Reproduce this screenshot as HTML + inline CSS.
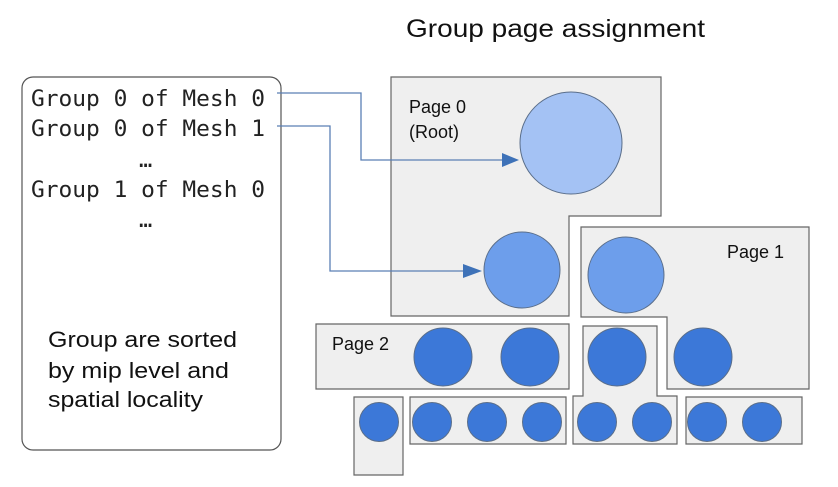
<!DOCTYPE html>
<html><head><meta charset="utf-8">
<style>
html,body{margin:0;padding:0;background:#fff;}
svg{display:block;}
.mono{font-family:"DejaVu Sans Mono","Liberation Mono",monospace;font-size:22px;fill:#222;}
.sans{font-family:"Liberation Sans",Arial,sans-serif;fill:#111;}
</style></head>
<body>
<svg id="diagram" width="838" height="487" viewBox="0 0 838 487" xmlns="http://www.w3.org/2000/svg">
  <text class="sans" x="406" y="37" font-size="25" textLength="299" lengthAdjust="spacingAndGlyphs">Group page assignment</text>

  <rect x="22" y="77" width="259" height="373" rx="11" fill="#fff" stroke="#555" stroke-width="1.2"/>
  <text class="mono" x="31" y="106" textLength="234" lengthAdjust="spacingAndGlyphs">Group 0 of Mesh 0</text>
  <text class="mono" x="31" y="136" textLength="234" lengthAdjust="spacingAndGlyphs">Group 0 of Mesh 1</text>
  <text class="mono" x="139" y="167" font-size="18">…</text>
  <text class="mono" x="31" y="197" textLength="234" lengthAdjust="spacingAndGlyphs">Group 1 of Mesh 0</text>
  <text class="mono" x="139" y="227" font-size="18">…</text>
  <text class="sans" font-size="22" x="48" y="347" textLength="189" lengthAdjust="spacingAndGlyphs">Group are sorted</text>
  <text class="sans" font-size="22" x="48" y="378" textLength="181" lengthAdjust="spacingAndGlyphs">by mip level and</text>
  <text class="sans" font-size="22" x="48" y="407" textLength="155" lengthAdjust="spacingAndGlyphs">spatial locality</text>

  <g id="pages" stroke="#666" stroke-width="1.2" fill="#efefef"></g>
  <g id="labels"></g>

  <polyline points="277,93 361,93 361,160 504,160" fill="none" stroke="#5a7fb5" stroke-width="1.3"/>
  <path d="M502,153 L519,160 L502,167 Z" fill="#3e72b8"/>
  <polyline points="277,126 330,126 330,271 466,271" fill="none" stroke="#5a7fb5" stroke-width="1.3"/>
  <path d="M463,264 L482,271 L463,278 Z" fill="#3e72b8"/>

  <g id="circles" stroke="#5a6e8a" stroke-width="1"></g>
</svg>
<script>
const pageNames = ["page-0","page-1","page-2","page-mid","box-a","box-b","box-d"];
const pageShapes = [
  "391,77 661,77 661,216 569,216 569,316 391,316",
  "581,227 809,227 809,389 667,389 667,317 581,317",
  "316,324 569,324 569,389 316,389",
  "583,326 657,326 657,396 677,396 677,444 573,444 573,396 583,396",
  "354,397 403,397 403,475 354,475",
  "410,397 566,397 566,444 410,444",
  "686,397 802,397 802,444 686,444"
];
const labelTexts = ["Page 0","(Root)","Page 1","Page 2"];
const labelX = [409,409,727,332];
const labelY = [113,138,258,350];
const circleX = [571,522,626,703,443,530,617,379,432,487,542,597,652,707,762];
const circleY = [143,270,275,357,357,357,357,422,422,422,422,422,422,422,422];
const circleR = [51,38,38,29,29,29,29,19.5,19.5,19.5,19.5,19.5,19.5,19.5,19.5];
const circleLevel = [0,1,1,2,2,2,2,2,2,2,2,2,2,2,2];
const levelColors = ["#a4c2f4","#6d9eeb","#3c78d8"];
const NS = "http://www.w3.org/2000/svg";
const pg = document.getElementById("pages");
pageShapes.forEach((p,i)=>{
  const el = document.createElementNS(NS,"polygon");
  el.setAttribute("points",p);
  
  
  pg.appendChild(el);
});
const lg = document.getElementById("labels");
labelTexts.forEach((t,i)=>{
  const el = document.createElementNS(NS,"text");
  el.setAttribute("x",labelX[i]);el.setAttribute("y",labelY[i]);
  el.setAttribute("class","sans");el.setAttribute("font-size","18");
  
  
  el.textContent=t;
  lg.appendChild(el);
});
const cg = document.getElementById("circles");
circleX.forEach((x,i)=>{
  const el = document.createElementNS(NS,"circle");
  el.setAttribute("cx",x);el.setAttribute("cy",circleY[i]);el.setAttribute("r",circleR[i]);
  el.setAttribute("fill",levelColors[circleLevel[i]]);
  
  
  cg.appendChild(el);
});
</script>
</body></html>
